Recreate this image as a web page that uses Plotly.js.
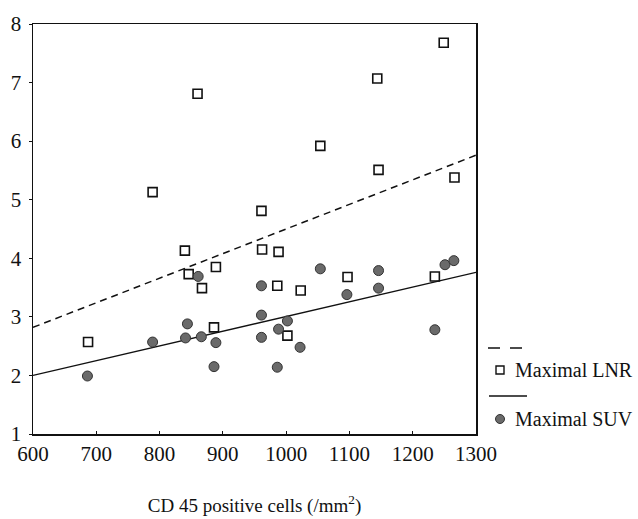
<!DOCTYPE html>
<html>
<head>
<meta charset="utf-8">
<script src="https://cdn.plot.ly/plotly-3.0.1.min.js"></script>
<style>html,body{margin:0;padding:0;background:#fff;}#chart{width:638px;height:519px;}</style>
</head>
<body>
<div id="chart"></div>
<script>
// CD45 positive cells (/mm2) vs maximal LNR
const lnrX = [687, 789, 840, 846, 860, 867, 886, 889, 961, 962, 986, 988, 1002, 1023, 1054, 1097, 1144, 1146, 1235, 1249, 1266];
const lnrY = [2.57, 5.13, 4.13, 3.73, 6.81, 3.49, 2.82, 3.85, 4.81, 4.15, 3.53, 4.11, 2.68, 3.45, 5.92, 3.68, 7.07, 5.51, 3.69, 7.68, 5.38];
// CD45 positive cells (/mm2) vs maximal SUV
const suvX = [686, 789, 841, 844, 861, 866, 886, 889, 961, 961, 961, 986, 988, 1002, 1022, 1054, 1096, 1146, 1146, 1235, 1251, 1265];
const suvY = [1.99, 2.57, 2.64, 2.88, 3.69, 2.66, 2.15, 2.56, 3.53, 3.03, 2.65, 2.14, 2.79, 2.93, 2.48, 3.82, 3.38, 3.79, 3.49, 2.78, 3.89, 3.96];
// Regression lines (read at the axis ends)
const fitX = [600, 1300];
const lnrFitY = [2.82, 5.76];
const suvFitY = [2.0, 3.76];
const seriesNames = ["Maximal LNR", "Maximal SUV"];
const xTicks = [600, 700, 800, 900, 1000, 1100, 1200, 1300];
const yTicks = [1, 2, 3, 4, 5, 6, 7, 8];

const font = "Liberation Serif, Times New Roman, serif";
const W = 638, H = 519, ML = 33, MR = 162, MT = 24, MB = 85;
const PW = W - ML - MR, PH = H - MT - MB;
const px = x => (x - ML) / PW;
const py = y => (H - MB - y) / PH;

const lnrMarker = {symbol: 'square-open', size: 9, color: '#111', line: {width: 1.6, color: '#111'}};
const suvMarker = {symbol: 'circle', size: 10, color: '#6a6a6a', line: {width: 1, color: '#333'}};

const traces = [
  {x: fitX, y: lnrFitY, mode: 'lines', name: seriesNames[0] + ' fit', showlegend: false, line: {color: '#111', width: 1.5, dash: '7px,5px'}},
  {x: lnrX, y: lnrY, mode: 'markers', name: seriesNames[0], showlegend: false, marker: lnrMarker},
  {x: fitX, y: suvFitY, mode: 'lines', name: seriesNames[1] + ' fit', showlegend: false, line: {color: '#111', width: 1.3}},
  {x: suvX, y: suvY, mode: 'markers', name: seriesNames[1], showlegend: false, marker: suvMarker}
];

// manual legend (line sample above each marker row, as in the reference)
const shapes = [
  {type: 'line', xref: 'paper', yref: 'paper', x0: px(488), x1: px(527), y0: py(348), y1: py(348), line: {color: '#111', width: 1.5, dash: '12px,10px'}},
  {type: 'rect', xref: 'paper', yref: 'paper', x0: px(496), x1: px(504), y0: py(374), y1: py(366), line: {color: '#111', width: 1.4}, fillcolor: '#fff'},
  {type: 'line', xref: 'paper', yref: 'paper', x0: px(489), x1: px(527), y0: py(396), y1: py(396), line: {color: '#111', width: 1.3}},
  {type: 'circle', xref: 'paper', yref: 'paper', x0: px(495.5), x1: px(504.5), y0: py(423.5), y1: py(414.5), line: {color: '#333', width: 1}, fillcolor: '#6a6a6a'}
];
const annotations = [
  {xref: 'paper', yref: 'paper', x: px(513), y: py(370), xanchor: 'left', yanchor: 'middle', showarrow: false, text: seriesNames[0], font: {family: font, size: 20, color: '#111'}},
  {xref: 'paper', yref: 'paper', x: px(513), y: py(419), xanchor: 'left', yanchor: 'middle', showarrow: false, text: seriesNames[1], font: {family: font, size: 20, color: '#111'}}
];

const layout = {
  width: W, height: H,
  margin: {l: ML, r: MR, t: MT, b: MB},
  paper_bgcolor: '#fff', plot_bgcolor: '#fff',
  font: {family: font, size: 20, color: '#111'},
  showlegend: false,
  shapes: shapes,
  annotations: annotations,
  xaxis: {
    range: [600, 1300], tickvals: xTicks, ticktext: xTicks.map(String),
    showgrid: false, zeroline: false, showline: true, linecolor: '#111', linewidth: 1.5, mirror: true,
    ticks: 'inside', ticklen: 3, tickcolor: '#111', automargin: false,
    tickfont: {family: font, size: 21, color: '#111'},
    title: {text: 'CD 45 positive cells (/mm<sup>2</sup>)', font: {family: font, size: 19, color: '#111'}, standoff: 34}
  },
  yaxis: {
    range: [1, 8], tickvals: yTicks, ticktext: yTicks.map(String),
    showgrid: false, zeroline: false, showline: true, linecolor: '#111', linewidth: 1.5, mirror: true,
    ticks: 'outside', ticklen: 3, tickcolor: '#111', automargin: false, ticklabelstandoff: 3,
    tickfont: {family: font, size: 21, color: '#111'}
  }
};

Plotly.newPlot('chart', traces, layout, {displayModeBar: false, staticPlot: true}).then(gd => {
  gd.querySelectorAll('text').forEach(t => { if (!t.textContent.trim()) t.remove(); });
});
</script>
</body>
</html>
